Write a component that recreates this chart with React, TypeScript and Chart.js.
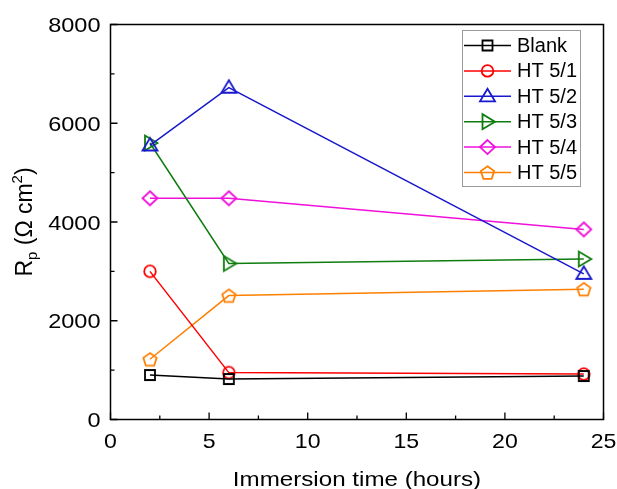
import React, { useEffect, useRef } from 'react';
import { Chart, registerables } from 'chart.js';

Chart.register(...registerables);

// ---- data ----
const hours = [2, 6, 24];
const seriesNames = ['Blank', 'HT 5/1', 'HT 5/2', 'HT 5/3', 'HT 5/4', 'HT 5/5'];
const blank = [900, 820, 880];
const ht51 = [3000, 950, 920];
const ht52 = [5550, 6720, 2950];
const ht53 = [5600, 3160, 3250];
const ht54 = [4480, 4480, 3850];
const ht55 = [1220, 2510, 2640];
const xTicks = [0, 5, 10, 15, 20, 25];
const xMinorTicks = [2.5, 7.5, 12.5, 17.5, 22.5];
const yTicks = [0, 2000, 4000, 6000, 8000];
const yMinorTicks = [1000, 3000, 5000, 7000];
const xTickLabels = ['0', '5', '10', '15', '20', '25'];
const yTickLabels = ['0', '2000', '4000', '6000', '8000'];
const xTitle = 'Immersion time (hours)';

const seriesValues = [blank, ht51, ht52, ht53, ht54, ht55];
const seriesColors = ['#000000', '#ff0000', '#1818cc', '#0f7d0f', '#f010dc', '#ff8000'];
const seriesMarkers = ['square', 'circle', 'triUp', 'triRight', 'diamond', 'pentagon'];

const FONT = '"Liberation Sans", Arial, sans-serif';

function drawMarker(ctx: CanvasRenderingContext2D, kind: string, cx: number, cy: number, color: string) {
  ctx.save();
  ctx.strokeStyle = color;
  ctx.lineWidth = 1.8;
  ctx.beginPath();
  if (kind === 'square') {
    ctx.rect(cx - 5, cy - 5, 10, 10);
  } else if (kind === 'circle') {
    ctx.arc(cx, cy, 5.8, 0, Math.PI * 2);
  } else if (kind === 'triUp') {
    ctx.moveTo(cx, cy - 7.5);
    ctx.lineTo(cx + 7.5, cy + 5);
    ctx.lineTo(cx - 7.5, cy + 5);
    ctx.closePath();
  } else if (kind === 'triRight') {
    ctx.moveTo(cx + 7.5, cy);
    ctx.lineTo(cx - 5, cy - 7.5);
    ctx.lineTo(cx - 5, cy + 7.5);
    ctx.closePath();
  } else if (kind === 'diamond') {
    ctx.moveTo(cx, cy - 7);
    ctx.lineTo(cx + 7.5, cy);
    ctx.lineTo(cx, cy + 7);
    ctx.lineTo(cx - 7.5, cy);
    ctx.closePath();
  } else if (kind === 'pentagon') {
    const r = 7;
    for (let i = 0; i < 5; i++) {
      const a = -Math.PI / 2 + (i * 2 * Math.PI) / 5;
      const px = cx + r * Math.cos(a);
      const py = cy + 0.8 + r * Math.sin(a);
      if (i === 0) ctx.moveTo(px, py);
      else ctx.lineTo(px, py);
    }
    ctx.closePath();
  }
  ctx.stroke();
  ctx.restore();
}

function markerImage(kind: string, color: string): HTMLCanvasElement {
  const c = document.createElement('canvas');
  c.width = 22;
  c.height = 22;
  const ctx = c.getContext('2d')!;
  drawMarker(ctx, kind, 11, 11, color);
  return c;
}

function stretchedText(
  ctx: CanvasRenderingContext2D,
  text: string,
  x: number,
  y: number,
  sx: number,
  align: CanvasTextAlign,
  baseline: CanvasTextBaseline
) {
  ctx.save();
  ctx.translate(x, y);
  ctx.scale(sx, 1);
  ctx.textAlign = align;
  ctx.textBaseline = baseline;
  ctx.fillText(text, 0, 0);
  ctx.restore();
}

const framePlugin = {
  id: 'frameTicks',
  afterDatasetsDraw(chart: any) {
    const { ctx, chartArea } = chart;
    const xs = chart.scales.x;
    const ys = chart.scales.y;
    const { left, right, top, bottom } = chartArea;
    ctx.save();
    ctx.strokeStyle = '#000';
    ctx.lineWidth = 1.5;
    ctx.strokeRect(left, top, right - left, bottom - top);
    ctx.lineWidth = 1.3;
    ctx.beginPath();
    xTicks.forEach((v) => {
      const px = xs.getPixelForValue(v);
      ctx.moveTo(px, bottom);
      ctx.lineTo(px, bottom - 7);
    });
    xMinorTicks.forEach((v) => {
      const px = xs.getPixelForValue(v);
      ctx.moveTo(px, bottom);
      ctx.lineTo(px, bottom - 4);
    });
    yTicks.forEach((v) => {
      const py = ys.getPixelForValue(v);
      ctx.moveTo(left, py);
      ctx.lineTo(left + 7, py);
    });
    yMinorTicks.forEach((v) => {
      const py = ys.getPixelForValue(v);
      ctx.moveTo(left, py);
      ctx.lineTo(left + 4, py);
    });
    ctx.stroke();

    // tick labels
    ctx.fillStyle = '#000';
    ctx.font = `21px ${FONT}`;
    xTicks.forEach((v, i) => {
      stretchedText(ctx, xTickLabels[i], xs.getPixelForValue(v), bottom + 28, 1.1, 'center', 'alphabetic');
    });
    yTicks.forEach((v, i) => {
      stretchedText(ctx, yTickLabels[i], left - 10, ys.getPixelForValue(v) + 7.5, 1.12, 'right', 'alphabetic');
    });

    // x title
    ctx.font = `21px ${FONT}`;
    stretchedText(ctx, xTitle, (left + right) / 2, 486, 1.15, 'center', 'alphabetic');

    // y title: R_p (Ω cm²)
    const cy = (top + bottom) / 2;
    ctx.translate(32, cy);
    ctx.rotate(-Math.PI / 2);
    const big = `23px ${FONT}`;
    const small = `15px ${FONT}`;
    const parts = [
      { t: 'R', f: big, dy: 0 },
      { t: 'p', f: small, dy: 5 },
      { t: ' (Ω cm', f: big, dy: 0 },
      { t: '2', f: small, dy: -10 },
      { t: ')', f: big, dy: 0 },
    ];
    let total = 0;
    parts.forEach((p) => {
      ctx.font = p.f;
      total += ctx.measureText(p.t).width;
    });
    let x = -total / 2;
    ctx.textAlign = 'left';
    ctx.textBaseline = 'alphabetic';
    parts.forEach((p) => {
      ctx.font = p.f;
      ctx.fillText(p.t, x, p.dy);
      x += ctx.measureText(p.t).width;
    });
    ctx.restore();
  },
};

const legendPlugin = {
  id: 'customLegend',
  afterDraw(chart: any) {
    const { ctx } = chart;
    ctx.save();
    ctx.strokeStyle = '#9a9a9a';
    ctx.lineWidth = 1;
    ctx.strokeRect(462.5, 30.5, 118, 156);
    ctx.font = `20px ${FONT}`;
    ctx.textAlign = 'left';
    ctx.textBaseline = 'middle';
    seriesNames.forEach((name, i) => {
      const y = 45.5 + i * 25.4;
      ctx.strokeStyle = seriesColors[i];
      ctx.lineWidth = 1.5;
      ctx.beginPath();
      ctx.moveTo(464, y);
      ctx.lineTo(511, y);
      ctx.stroke();
      drawMarker(ctx, seriesMarkers[i], 487.5, y, seriesColors[i]);
      ctx.fillStyle = '#000';
      ctx.fillText(name, 517, y + 1);
    });
    ctx.restore();
  },
};

export default function App() {
  const ref = useRef<HTMLCanvasElement | null>(null);
  useEffect(() => {
    document.body.style.margin = '0';
    const canvas = ref.current!;
    const datasets = seriesNames.map((name, i) => {
      const img = markerImage(seriesMarkers[i], seriesColors[i]);
      return {
        label: name,
        data: hours.map((h, j) => ({ x: h, y: seriesValues[i][j] })),
        borderColor: seriesColors[i],
        backgroundColor: 'rgba(0,0,0,0)',
        borderWidth: 1.5,
        pointStyle: img as any,
        pointRadius: 7,
        tension: 0,
        showLine: true,
      };
    });
    const chart = new Chart(canvas, {
      type: 'scatter',
      data: { datasets },
      options: {
        animation: false,
        responsive: false,
        devicePixelRatio: 1,
        layout: { padding: { left: 0, right: 13.5, top: 24.5, bottom: 0 } },
        plugins: { legend: { display: false }, tooltip: { enabled: false } },
        scales: {
          x: {
            type: 'linear',
            min: 0,
            max: 25,
            afterFit: (s: any) => { s.height = 69.5; },
            afterBuildTicks: (s: any) => { s.ticks = xTicks.map((v) => ({ value: v })); },
            grid: { display: false, drawTicks: false },
            border: { display: false },
            ticks: { display: false },
          },
          y: {
            type: 'linear',
            min: 0,
            max: 8000,
            afterFit: (s: any) => { s.width = 110.5; },
            afterBuildTicks: (s: any) => { s.ticks = yTicks.map((v) => ({ value: v })); },
            grid: { display: false, drawTicks: false },
            border: { display: false },
            ticks: { display: false },
          },
        },
      },
      plugins: [framePlugin, legendPlugin],
    });
    return () => chart.destroy();
  }, []);
  return (
    <div style={{ position: 'absolute', left: 0, top: 0, width: 617, height: 489 }}>
      <canvas ref={ref} width={617} height={489} style={{ width: 617, height: 489 }} />
    </div>
  );
}
